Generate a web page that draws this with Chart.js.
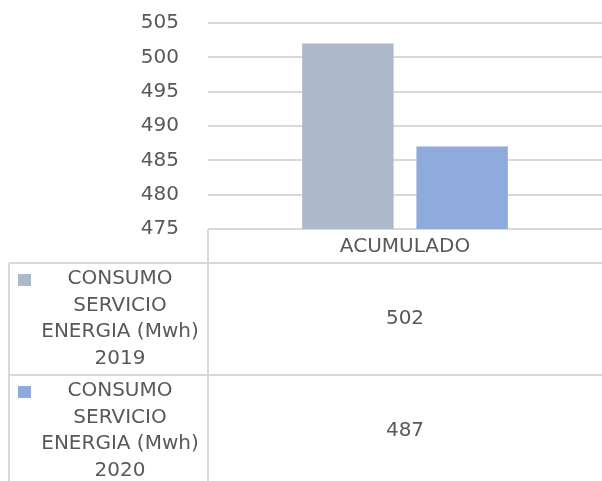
<!DOCTYPE html>
<html>
<head>
<meta charset="utf-8">
<title>Consumo servicio energia</title>
<script src="https://cdn.jsdelivr.net/npm/chart.js@4/dist/chart.umd.min.js"></script>
<style>
  body { margin: 0; background: #fff; }
  canvas { display: block; }
</style>
</head>
<body>
<canvas id="chart-consumo" width="602" height="481"></canvas>
<script>
// categories and series
var categories = ['ACUMULADO'];
var serie2019Lines = ['CONSUMO', 'SERVICIO', 'ENERGIA (Mwh)', '2019'];
var serie2020Lines = ['CONSUMO', 'SERVICIO', 'ENERGIA (Mwh)', '2020'];
var consumo2019 = [502];
var consumo2020 = [487];

// value axis
var yMin = 475;
var yMax = 505;
var yStep = 5;

var textColor = '#595959';
var lineColor = '#d9d9d9';
var fontFamily = '"DejaVu Sans", sans-serif';
var fontSize = 20;

// data table under the plot (header row + one row per series)
var dataTable = {
  id: 'dataTable',
  afterDraw: function(chart) {
    var ctx = chart.ctx;
    var area = chart.chartArea;
    var xScale = chart.scales.x;
    var left = 9;
    var right = chart.width;
    var headerH = 34;
    var rowH = 112;
    var top = area.bottom;

    ctx.save();
    ctx.strokeStyle = lineColor;
    ctx.lineWidth = 2;
    ctx.beginPath();
    ctx.moveTo(area.left, top);
    ctx.lineTo(area.left, chart.height);
    ctx.moveTo(left, top + headerH);
    ctx.lineTo(left, chart.height);
    for (var r = 0; r < chart.data.datasets.length; r++) {
      var ly = top + headerH + r * rowH;
      ctx.moveTo(left, ly);
      ctx.lineTo(right, ly);
    }
    ctx.stroke();

    ctx.fillStyle = textColor;
    ctx.font = fontSize + 'px ' + fontFamily;
    ctx.textAlign = 'center';
    ctx.textBaseline = 'middle';

    // header
    categories.forEach(function(cat, i) {
      ctx.fillText(cat, xScale.getPixelForValue(i), top + headerH / 2 + 1);
    });

    // rows
    chart.data.datasets.forEach(function(ds, r) {
      var rowTop = top + headerH + r * rowH;
      ctx.fillStyle = ds.backgroundColor;
      ctx.fillRect(18, rowTop + 11, 13, 12);

      ctx.fillStyle = textColor;
      var labelX = (32 + area.left) / 2;
      ds.labelLines.forEach(function(line, k) {
        ctx.fillText(line, labelX, rowTop + 16 + k * 26.5);
      });

      ds.data.forEach(function(v, i) {
        ctx.fillText(String(v), xScale.getPixelForValue(i), rowTop + 56);
      });
    });
    ctx.restore();
  }
};

var ctx = document.getElementById('chart-consumo').getContext('2d');
var chart = new Chart(ctx, {
  type: 'bar',
  data: {
    labels: categories,
    datasets: [{
      label: serie2019Lines.join(' '),
      labelLines: serie2019Lines,
      data: consumo2019,
      backgroundColor: '#adb9ca',
      barPercentage: 0.8,
      categoryPercentage: 0.58
    }, {
      label: serie2020Lines.join(' '),
      labelLines: serie2020Lines,
      data: consumo2020,
      backgroundColor: '#8faadc',
      barPercentage: 0.8,
      categoryPercentage: 0.58
    }]
  },
  options: {
    responsive: false,
    animation: false,
    layout: { padding: { top: 23, bottom: 252, left: 0, right: 0 } },
    plugins: {
      legend: { display: false },
      tooltip: { enabled: false }
    },
    scales: {
      x: {
        display: false
      },
      y: {
        min: yMin,
        max: yMax,
        ticks: {
          stepSize: yStep,
          color: textColor,
          font: { family: fontFamily, size: fontSize },
          padding: 29
        },
        grid: { color: lineColor, lineWidth: 2, drawTicks: false },
        border: { display: false },
        afterFit: function(scale) {
          scale.width = 208;
          scale.paddingTop = 0;
          scale.paddingBottom = 0;
        }
      }
    }
  },
  plugins: [dataTable]
});
</script>
</body>
</html>
